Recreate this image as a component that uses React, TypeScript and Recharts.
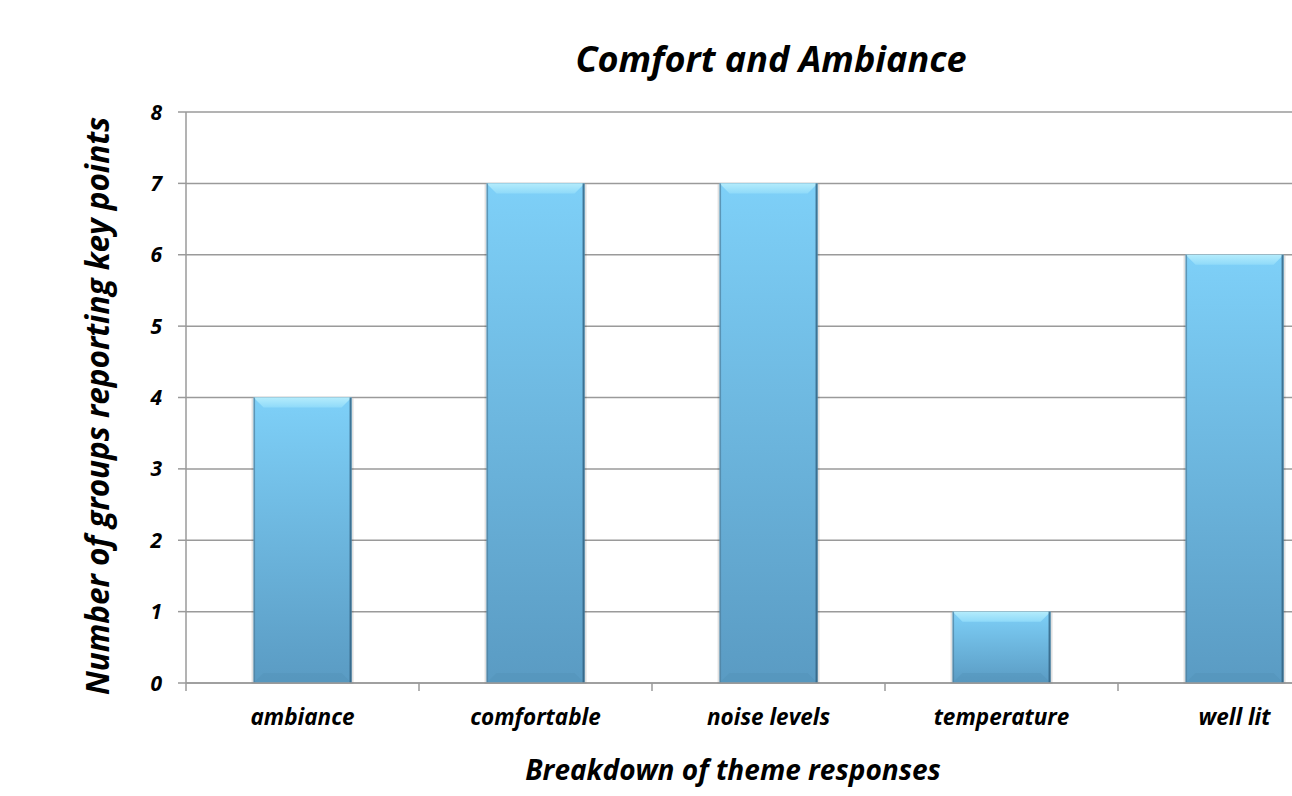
import { BarChart, Bar, XAxis, YAxis, CartesianGrid } from 'recharts'

const categories = ['ambiance', 'comfortable', 'noise levels', 'temperature', 'well lit']
const counts = [4, 7, 7, 1, 6]
const yTicks = [0, 1, 2, 3, 4, 5, 6, 7, 8]

const data = categories.map((name, i) => ({ name, count: counts[i] }))

const FONT = '"Open Sans", "DejaVu Sans", sans-serif'
const GRID = '#9a9a9a'

function BevelBar(props: any) {
  const { x, y, width, height } = props
  if (!height || height <= 0) return null
  const b = Math.min(10, height / 4)
  return (
    <g>
      <rect x={x - 2} y={y + 1} width={width + 4} height={height} fill="#000" opacity={0.12} />
      <rect x={x} y={y} width={width} height={height} fill="url(#barFill)" />
      <polygon
        points={`${x},${y} ${x + width},${y} ${x + width - b},${y + b} ${x + b},${y + b}`}
        fill="url(#bevelTop)"
      />
      <polygon
        points={`${x},${y + height} ${x + width},${y + height} ${x + width - b},${y + height - b} ${x + b},${y + height - b}`}
        fill="#4f8fb5"
        opacity={0.35}
      />
      <rect x={x + width - 2} y={y} width={2} height={height} fill="#2f5f7e" opacity={0.8} />
      <rect x={x} y={y} width={1.5} height={height} fill="#4f7f9c" opacity={0.7} />
    </g>
  )
}

// category label plus tick marks at the band edges (like the original)
function CatTick(props: any) {
  const { x, y, payload, index, visibleTicksCount } = props
  const half = payload?.offset ?? 0
  return (
    <g>
      <line x1={x - half} x2={x - half} y1={y} y2={y + 8} stroke={GRID} strokeWidth={1.5} />
      {index === visibleTicksCount - 1 && (
        <line x1={x + half} x2={x + half} y1={y} y2={y + 8} stroke={GRID} strokeWidth={1.5} />
      )}
      <text
        x={x}
        y={y + 26}
        dy="0.71em"
        textAnchor="middle"
        fontFamily={FONT}
        fontWeight={700}
        fontStyle="italic"
        fontSize={22.5}
        fill="#000"
      >
        {payload.value}
      </text>
    </g>
  )
}

function ValueTick(props: any) {
  const { x, y, payload } = props
  return (
    <text
      x={x}
      y={y}
      dy="0.36em"
      textAnchor="end"
      fontFamily={FONT}
      fontWeight={700}
      fontStyle="italic"
      fontSize={21}
      fill="#000"
    >
      {payload.value}
    </text>
  )
}

const textBase = {
  position: 'absolute' as const,
  fontFamily: FONT,
  fontWeight: 700,
  fontStyle: 'italic',
  whiteSpace: 'nowrap' as const,
  lineHeight: '40px',
  color: '#000',
}

export default function App() {
  return (
    <div style={{ position: 'fixed', left: 0, top: 0, width: 1292, height: 796, overflow: 'hidden', background: '#fff' }}>
      <div style={{ ...textBase, left: 771, top: 39, transform: 'translateX(-50%)', fontSize: 36 }}>
        Comfort and Ambiance
      </div>
      <div style={{ ...textBase, left: 733, top: 749, transform: 'translateX(-50%)', fontSize: 28 }}>
        Breakdown of theme responses
      </div>
      <div
        style={{
          ...textBase,
          left: 97,
          top: 406,
          transform: 'translate(-50%, -50%) rotate(-90deg)',
          fontSize: 31.5,
        }}
      >
        Number of groups reporting key points
      </div>
      <BarChart
        width={1360}
        height={796}
        data={data}
        margin={{ top: 112, right: 9, bottom: 13, left: 0 }}
        barCategoryGap="29%"
        style={{ position: 'absolute', left: 0, top: 0 }}
      >
        <defs>
          <linearGradient id="barFill" x1="0" y1="0" x2="0" y2="1">
            <stop offset="0%" stopColor="#7ed0f8" />
            <stop offset="100%" stopColor="#5a9bc3" />
          </linearGradient>
          <linearGradient id="bevelTop" x1="0" y1="0" x2="0" y2="1">
            <stop offset="0%" stopColor="#b4ecfc" />
            <stop offset="100%" stopColor="#8fdaf9" />
          </linearGradient>
        </defs>
        <CartesianGrid vertical={false} stroke={GRID} strokeWidth={1.5} />
        <XAxis
          dataKey="name"
          height={100}
          axisLine={{ stroke: GRID, strokeWidth: 1.5 }}
          tickLine={false}
          tickSize={0}
          tickMargin={0}
          tick={<CatTick />}
          interval={0}
        />
        <YAxis
          domain={[0, 8]}
          ticks={yTicks}
          width={186}
          axisLine={{ stroke: GRID, strokeWidth: 1.5 }}
          tickLine={{ stroke: GRID, strokeWidth: 1.5 }}
          tickSize={8}
          tickMargin={16}
          tick={<ValueTick />}
        />
        <Bar dataKey="count" shape={<BevelBar />} isAnimationActive={false} />
      </BarChart>
    </div>
  )
}
